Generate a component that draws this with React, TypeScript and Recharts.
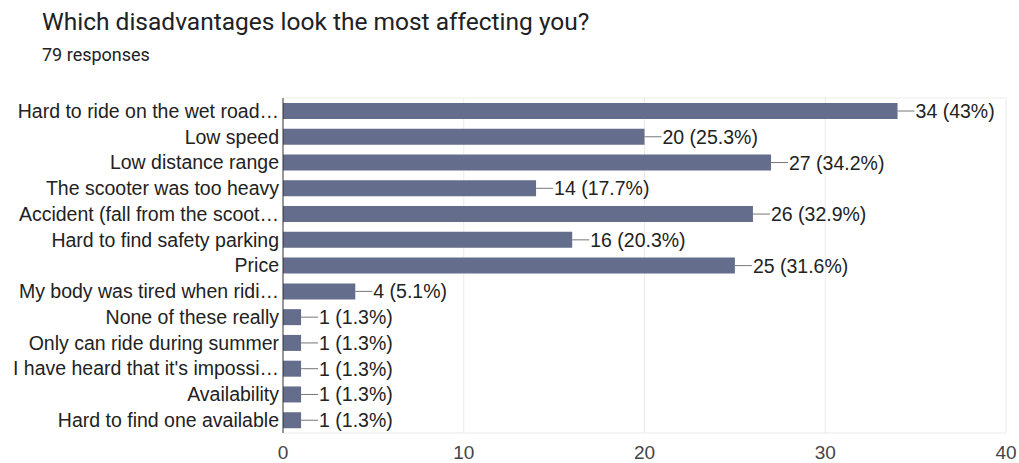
import React from "react";
import { BarChart, Bar, XAxis, YAxis, CartesianGrid, LabelList } from "recharts";

const categories = [
  "Hard to ride on the wet road…",
  "Low speed",
  "Low distance range",
  "The scooter was too heavy",
  "Accident (fall from the scoot…",
  "Hard to find safety parking",
  "Price",
  "My body was tired when ridi…",
  "None of these really",
  "Only can ride during summer",
  "I have heard that it's impossi…",
  "Availability",
  "Hard to find one available",
];
const counts = [34, 20, 27, 14, 26, 16, 25, 4, 1, 1, 1, 1, 1];
const percents = ["43%", "25.3%", "34.2%", "17.7%", "32.9%", "20.3%", "31.6%", "5.1%", "1.3%", "1.3%", "1.3%", "1.3%", "1.3%"];
const xTicks = [0, 10, 20, 30, 40];

const data = categories.map((c, i) => ({ name: c, value: counts[i], label: `${counts[i]} (${percents[i]})` }));

const FONT = "'Liberation Sans', Arial, sans-serif";

const BarLabel = (props: any) => {
  const { x, y, width, height, value } = props;
  const ex = x + width;
  const cy = y + height / 2;
  return (
    <g>
      <line x1={ex} y1={cy} x2={ex + 17} y2={cy} stroke="#777" strokeWidth={1} />
      <text x={ex + 18} y={cy} dy="0.36em" fill="#222" fontSize={19.5} fontFamily={FONT}>
        {value}
      </text>
    </g>
  );
};

export default function App() {
  return (
    <div style={{ position: "absolute", left: 0, top: 0, width: 1019, height: 463, background: "#fff" }}>
      <div style={{ position: "absolute", left: 42, top: 7, fontFamily: "Roboto, sans-serif", fontSize: 24.5, color: "#202124", whiteSpace: "nowrap", lineHeight: "30px" }}>
        Which disadvantages look the most affecting you?
      </div>
      <div style={{ position: "absolute", left: 42, top: 44, fontFamily: "Roboto, sans-serif", fontSize: 18, color: "#202124", whiteSpace: "nowrap", lineHeight: "22px" }}>
        79 responses
      </div>
      <div style={{ position: "absolute", left: 0, top: 0 }}>
        <BarChart
          width={1019}
          height={463}
          data={data}
          layout="vertical"
          margin={{ top: 98, right: 13, bottom: 0, left: 0 }}
          barSize={16}
        >
          <CartesianGrid
            stroke="#ebebeb"
            horizontalCoordinatesGenerator={(p: any) => [p.offset.top, p.offset.top + p.offset.height]}
            verticalCoordinatesGenerator={(p: any) => {
              const l = p.offset.left, w = p.offset.width;
              return xTicks.slice(1).map((t) => l + (t / 40) * w);
            }}
          />
          <XAxis
            type="number"
            domain={[0, 40]}
            ticks={xTicks}
            axisLine={false}
            tickLine={false}
            tickSize={0}
            tickMargin={13}
            height={30}
            tick={{ fill: "#444", fontSize: 19, fontFamily: FONT }}
          />
          <YAxis
            type="category"
            dataKey="name"
            width={283}
            axisLine={{ stroke: "#333" }}
            tickLine={false}
            tickSize={0}
            tickMargin={4}
            interval={0}
            tick={{ fill: "#222", fontSize: 19.5, fontFamily: FONT }}
          />
          <Bar dataKey="value" fill="#646d8c" isAnimationActive={false}>
            <LabelList dataKey="label" content={<BarLabel />} />
          </Bar>
        </BarChart>
      </div>
    </div>
  );
}
